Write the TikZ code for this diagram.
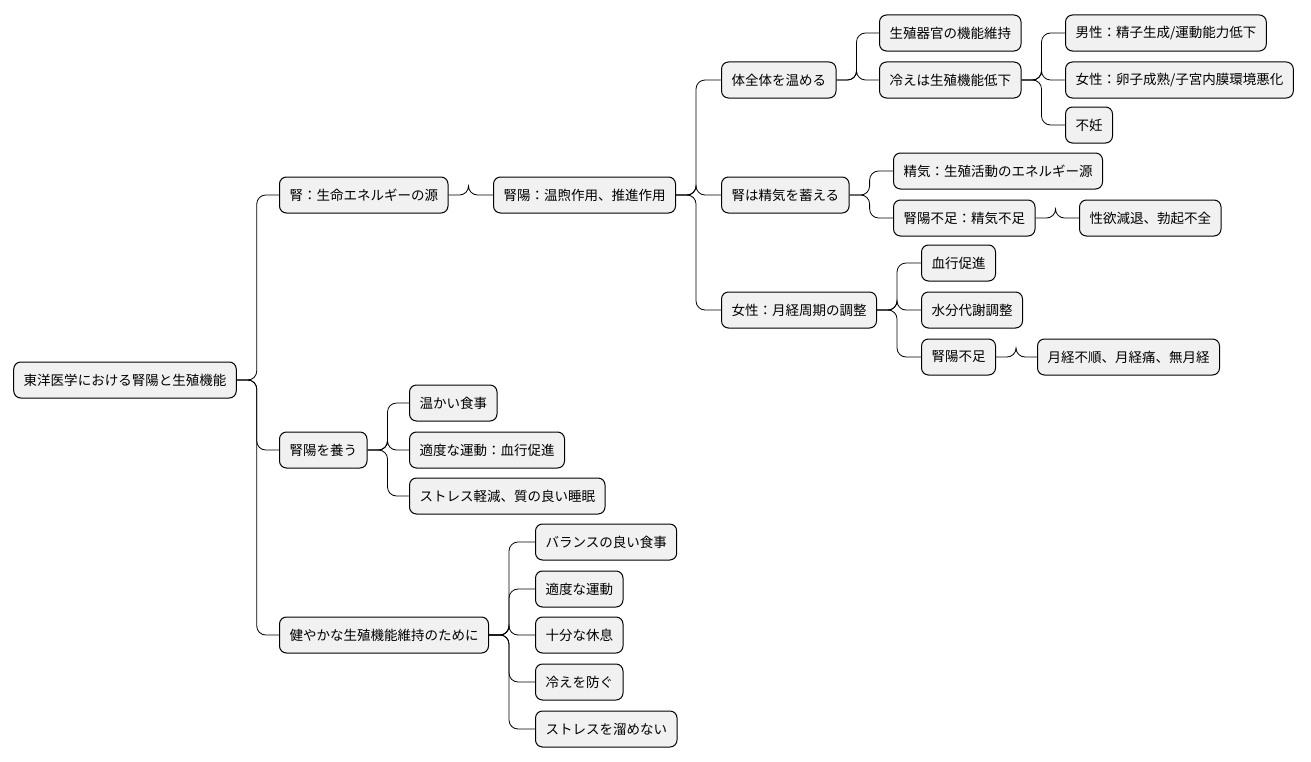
\documentclass[tikz,border=0pt]{standalone}
\usepackage{fontspec}
\setmainfont{Noto Sans CJK JP}
\usetikzlibrary{positioning}
\definecolor{boxfill}{HTML}{F1F1F1}
\tikzset{
  topic/.style={draw=black, fill=boxfill, line width=1bp, rounded corners=7bp,
    minimum height=36bp, inner xsep=10bp, inner ysep=0bp,
    font=\fontsize{13.5bp}{16bp}\selectfont},
  branch/.style={draw=black, line width=0.8bp, rounded corners=9bp}
}
\newcommand{\twig}[2]{\draw[branch] (#1.east) -- ++(20,0) |- (#2.west);}
\begin{document}
\begin{tikzpicture}[x=1bp,y=-1bp]
  \useasboundingbox (0,0) rectangle (1311,761);
  % root and first level
  \node[topic] (root) at (125,380) {東洋医学における腎陽と生殖機能};
  \node[topic, anchor=west] (kid) at (279,195) {腎：生命エネルギーの源};
  \node[topic, anchor=west] (yang) at (493,195) {腎陽：温煦作用、推進作用};
  \node[topic, anchor=west] (warm) at (721,80) {体全体を温める};
  \node[topic, anchor=west] (organ) at (879,33) {生殖器官の機能維持};
  \node[topic, anchor=west] (cold) at (879,80) {冷えは生殖機能低下};
  \node[topic, anchor=west] (male) at (1065,33) {男性：精子生成/運動能力低下};
  \node[topic, anchor=west] (fem) at (1065,80) {女性：卵子成熟/子宮内膜環境悪化};
  \node[topic, anchor=west] (inf) at (1065,125) {不妊};
  \node[topic, anchor=west] (store) at (721,195) {腎は精気を蓄える};
  \node[topic, anchor=west] (qi) at (893,171) {精気：生殖活動のエネルギー源};
  \node[topic, anchor=west] (lack) at (893,218) {腎陽不足：精気不足};
  \node[topic, anchor=west] (libido) at (1079,218) {性欲減退、勃起不全};
  \node[topic, anchor=west] (cycle) at (721,310) {女性：月経周期の調整};
  \node[topic, anchor=west] (blood) at (921,263) {血行促進};
  \node[topic, anchor=west] (water) at (921,310) {水分代謝調整};
  \node[topic, anchor=west] (lack2) at (921,357) {腎陽不足};
  \node[topic, anchor=west] (mens) at (1037,357) {月経不順、月経痛、無月経};
  % nourishing
  \node[topic, anchor=west] (feed) at (279,450) {腎陽を養う};
  \node[topic, anchor=west] (meal) at (409,403) {温かい食事};
  \node[topic, anchor=west] (move) at (409,450) {適度な運動：血行促進};
  \node[topic, anchor=west] (sleep) at (409,496) {ストレス軽減、質の良い睡眠};
  % keeping healthy
  \node[topic, anchor=west] (keep) at (279,635) {健やかな生殖機能維持のために};
  \node[topic, anchor=west] (bal) at (535,542) {バランスの良い食事};
  \node[topic, anchor=west] (ex) at (535,589) {適度な運動};
  \node[topic, anchor=west] (rest) at (535,635) {十分な休息};
  \node[topic, anchor=west] (chill) at (535,682) {冷えを防ぐ};
  \node[topic, anchor=west] (stress) at (535,729) {ストレスを溜めない};

  \twig{root}{kid} \twig{root}{feed} \twig{root}{keep}
  \twig{kid}{yang}
  \twig{yang}{warm} \twig{yang}{store} \twig{yang}{cycle}
  \twig{warm}{organ} \twig{warm}{cold}
  \twig{cold}{male} \twig{cold}{fem} \twig{cold}{inf}
  \twig{store}{qi} \twig{store}{lack}
  \twig{lack}{libido}
  \twig{cycle}{blood} \twig{cycle}{water} \twig{cycle}{lack2}
  \twig{lack2}{mens}
  \twig{feed}{meal} \twig{feed}{move} \twig{feed}{sleep}
  \twig{keep}{bal} \twig{keep}{ex} \twig{keep}{rest} \twig{keep}{chill} \twig{keep}{stress}
\end{tikzpicture}
\end{document}
